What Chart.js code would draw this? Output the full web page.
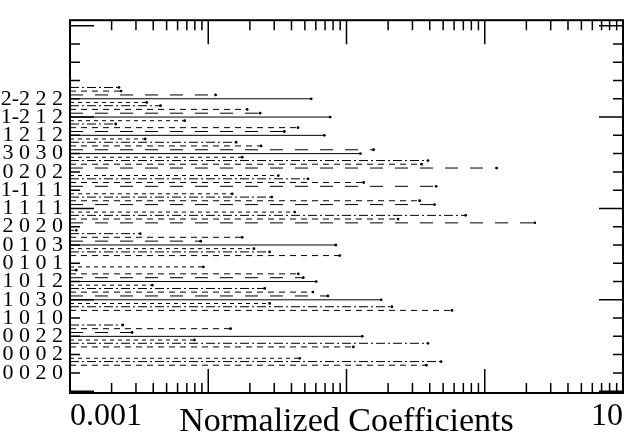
<!DOCTYPE html>
<html>
<head>
<meta charset="utf-8">
<script src="https://cdn.jsdelivr.net/npm/chart.js@4.4.0/dist/chart.umd.min.js"></script>
<style>
  html, body { margin: 0; padding: 0; background: #fff; }
</style>
</head>
<body>
<canvas id="coefChart" width="631" height="434"></canvas>
<script>
// Terms, from bottom (1) to top (16)
const termLabels = ['0 0 2 0', '0 0 0 2', '0 0 2 2', '1 0 1 0', '1 0 3 0', '1 0 1 2', '0 1 0 1', '0 1 0 3',
                    '2 0 2 0', '1 1 1 1', '1-1 1 1', '0 2 0 2', '3 0 3 0', '1 2 1 2', '1-2 1 2', '2-2 2 2'];
const termPositions = [1, 2, 3, 4, 5, 6, 7, 8, 9, 10, 11, 12, 13, 14, 15, 16];

// Coefficients of each series per term (null = nothing drawn)
const solidValues    = [null, null, 0.130, null, 0.178, 0.0603, null, 0.0837, null, null, null, null, 0.126, 0.0691, 0.0762, 0.0555];
const longDashValues = [null, null, 0.00281, null, 0.0734, 0.0487, null, 0.00882, 2.30, 0.433, 0.445, 1.22, 0.157, 0.0355, 0.0237, 0.0113];
const dashedValues   = [0.378, 0.112, 0.0145, 0.579, 0.0571, 0.0448, 0.0894, 0.0176, 0.236, 0.338, 0.133, 0.349, 0.0241, 0.0446, 0.0191, 0.00234];
const dashDotValues  = [0.483, 0.388, 0.00241, 0.213, 0.0256, 0.00111, 0.0278, 0.00322, 0.728, 0.0288, 0.0526, 0.388, 0.0159, 0.00214, 0.00452, 0.00226];
const dottedValues   = [0.0458, 0.00795, null, 0.0278, 0.00394, 0.00922, 0.0214, 0.00111, 0.0422, 0.0149, 0.0321, 0.0176, 0.00350, 0.00675, 0.00359, null];

// Axis
const xMin = 0.001;
const xMax = 10;
const xTickValues = [0.001, 10];
const xTickLabels = ['0.001', '10'];

const serif = "'Liberation Serif', 'Times New Roman', serif";

// One line per term, from the left edge to the value, broken by a gap
function segments(values, offset) {
  const pts = [];
  values.forEach((v, i) => {
    if (v === null) return;
    const yv = termPositions[i] + offset;
    pts.push({ x: xMin, y: yv }, { x: v, y: yv }, { x: v, y: null });
  });
  return pts;
}

function series(values, offset, dash) {
  return {
    data: segments(values, offset),
    borderColor: '#000',
    backgroundColor: '#000',
    borderWidth: 1,
    borderDash: dash,
    pointRadius: ctx => (ctx.dataIndex % 3 === 1 ? 1.4 : 0),
    pointBorderWidth: 0,
    spanGaps: false,
    tension: 0
  };
}

// Inward ticks on all four sides, plus the frame
const frameTicks = {
  id: 'frameTicks',
  afterDraw(chart) {
    const { ctx, chartArea: a, scales: { x, y } } = chart;
    ctx.save();
    ctx.strokeStyle = '#000';
    ctx.lineWidth = 1.5;
    ctx.beginPath();
    for (let e = -3; e < 1; e++) {
      for (let m = 1; m < 10; m++) {
        const px = x.getPixelForValue(m * Math.pow(10, e));
        const len = m === 1 ? 24 : 10;
        ctx.moveTo(px, a.bottom); ctx.lineTo(px, a.bottom - len);
        ctx.moveTo(px, a.top); ctx.lineTo(px, a.top + len);
      }
    }
    for (let v = 0; v <= 20; v++) {
      const py = y.getPixelForValue(v);
      const len = v % 5 === 0 ? 24 : 10;
      ctx.moveTo(a.left, py); ctx.lineTo(a.left + len, py);
      ctx.moveTo(a.right, py); ctx.lineTo(a.right - len, py);
    }
    ctx.stroke();
    ctx.lineWidth = 2;
    ctx.strokeRect(a.left, a.top, a.right - a.left, a.bottom - a.top);
    ctx.restore();
  }
};

new Chart(document.getElementById('coefChart'), {
  type: 'line',
  data: {
    datasets: [
      series(solidValues, 0, []),
      series(longDashValues, 0.21, [13, 12]),
      series(dashedValues, 0.42, [6, 5]),
      series(dashDotValues, 0.62, [9, 3, 2, 3]),
      series(dottedValues, 0.8, [4, 4])
    ]
  },
  options: {
    responsive: false,
    devicePixelRatio: 1,
    animation: false,
    layout: { padding: { top: 13, right: 1, left: 0, bottom: 0 } },
    plugins: { legend: { display: false }, tooltip: { enabled: false } },
    scales: {
      x: {
        type: 'logarithmic',
        min: xMin,
        max: xMax,
        grid: { display: false, drawTicks: false },
        border: { display: false },
        afterBuildTicks: s => { s.ticks = xTickValues.map(v => ({ value: v })); },
        afterFit: s => { s.height = 41; },
        ticks: {
          align: 'inner',
          padding: 8,
          autoSkip: false,
          maxRotation: 0,
          color: '#000',
          font: { family: serif, size: 32, lineHeight: 1 },
          callback: (v, i) => xTickLabels[i]
        },
        title: {
          display: true,
          text: 'Normalized Coefficients',
          color: '#000',
          padding: { top: 0, bottom: -5 },
          font: { family: serif, size: 34, lineHeight: 1 }
        }
      },
      y: {
        type: 'linear',
        min: -0.1,
        max: 20.3,
        grid: { display: false, drawTicks: false },
        border: { display: false },
        afterBuildTicks: s => { s.ticks = termPositions.map(v => ({ value: v })); },
        afterFit: s => { s.width = 70; },
        ticks: {
          padding: 7,
          autoSkip: false,
          color: '#000',
          font: { family: serif, size: 22 },
          callback: (v, i) => termLabels[i]
        }
      }
    }
  },
  plugins: [frameTicks]
});
</script>
</body>
</html>
